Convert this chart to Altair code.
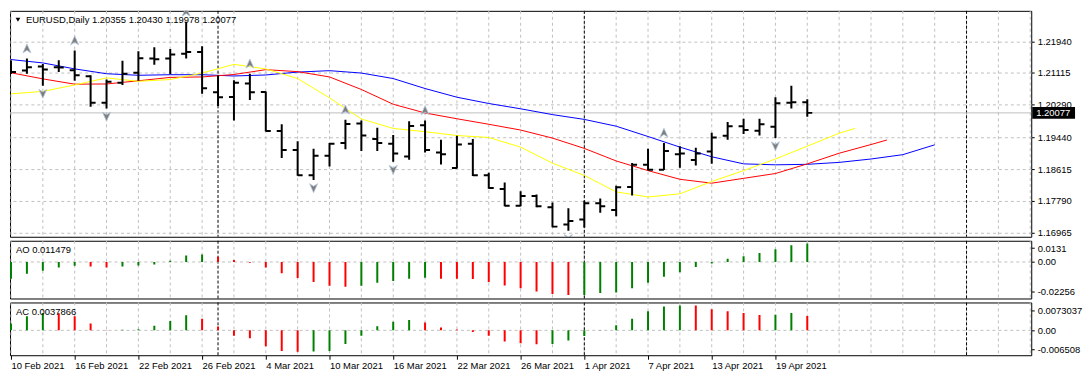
import altair as alt
import pandas as pd

# ---------------- data ----------------
dates = [
    "2021-02-10", "2021-02-11", "2021-02-12", "2021-02-15", "2021-02-16", "2021-02-17", "2021-02-18",
    "2021-02-19", "2021-02-22", "2021-02-23", "2021-02-24", "2021-02-25", "2021-02-26",
    "2021-03-01", "2021-03-02", "2021-03-03", "2021-03-04", "2021-03-05", "2021-03-08", "2021-03-09",
    "2021-03-10", "2021-03-11", "2021-03-12", "2021-03-15", "2021-03-16", "2021-03-17", "2021-03-18",
    "2021-03-19", "2021-03-22", "2021-03-23", "2021-03-24", "2021-03-25", "2021-03-26", "2021-03-29",
    "2021-03-30", "2021-03-31",
    "2021-04-01", "2021-04-02", "2021-04-05", "2021-04-06", "2021-04-07", "2021-04-08", "2021-04-09",
    "2021-04-12", "2021-04-13", "2021-04-14", "2021-04-15", "2021-04-16", "2021-04-19", "2021-04-20",
    "2021-04-21",
]
opens = [1.21262, 1.21179, 1.21280, 1.21262, 1.21187, 1.21029, 1.20341, 1.20861, 1.21119, 1.21488,
         1.21488, 1.21614, 1.21656, 1.20610, 1.20492, 1.20843, 1.20617, 1.19606, 1.19111, 1.18459,
         1.18961, 1.19297, 1.19799, 1.19397, 1.19272, 1.18946, 1.19756, 1.19046, 1.18644, 1.19272,
         1.18459, 1.18100, 1.17665, 1.17916, 1.17623, 1.17179, 1.17304, 1.17731, 1.17555, 1.18150,
         1.18727, 1.18602, 1.19003, 1.18853, 1.19071, 1.19480, 1.19731, 1.19613, 1.19714, 1.20341,
         1.20355]
highs = [1.21438, 1.21488, 1.21345, 1.21446, 1.21697, 1.21054, 1.20944, 1.21430, 1.21681, 1.21782,
         1.21739, 1.22442, 1.21807, 1.21054, 1.20928, 1.21094, 1.20635, 1.19781, 1.19337, 1.19146,
         1.19297, 1.19899, 1.19882, 1.19689, 1.19505, 1.19857, 1.19882, 1.19380, 1.19480, 1.19397,
         1.18519, 1.18268, 1.18042, 1.17957, 1.17748, 1.17598, 1.17791, 1.17849, 1.18183, 1.18777,
         1.19146, 1.19297, 1.19212, 1.19171, 1.19563, 1.19839, 1.19924, 1.19924, 1.20484, 1.20785,
         1.20430]
lows = [1.21087, 1.21094, 1.20785, 1.21137, 1.20911, 1.20233, 1.20191, 1.20803, 1.20911, 1.21330,
        1.21079, 1.21488, 1.20577, 1.20258, 1.19882, 1.20409, 1.19590, 1.18903, 1.18444, 1.18333,
        1.18685, 1.19129, 1.19086, 1.19086, 1.18810, 1.18860, 1.19046, 1.18735, 1.18630, 1.18434,
        1.18107, 1.17648, 1.17648, 1.17623, 1.17103, 1.17013, 1.17096, 1.17480, 1.17389, 1.17932,
        1.18584, 1.18590, 1.18652, 1.18710, 1.18752, 1.19380, 1.19530, 1.19488, 1.19422, 1.20191,
        1.19978]
closes = [1.21137, 1.21262, 1.21205, 1.21255, 1.21054, 1.20341, 1.20886, 1.21094, 1.21496, 1.21471,
          1.21596, 1.21656, 1.20718, 1.20484, 1.20861, 1.20610, 1.19606, 1.19111, 1.18459, 1.18961,
          1.19272, 1.19789, 1.19488, 1.19297, 1.19021, 1.19739, 1.19111, 1.19003, 1.19254, 1.18459,
          1.18125, 1.17665, 1.17916, 1.17648, 1.17121, 1.17264, 1.17731, 1.17648, 1.18142, 1.18727,
          1.18602, 1.19086, 1.19021, 1.19021, 1.19438, 1.19731, 1.19631, 1.19781, 1.20326, 1.20355,
          1.20077]

# Alligator lines (bar index, price), shifted into the future
jaw_idx = list(range(0, 59, 2))
jaw = [1.21463, 1.21375, 1.21220, 1.21094, 1.21054, 1.21069, 1.21069, 1.21036, 1.21062, 1.21137,
       1.21174, 1.21112, 1.20969, 1.20710, 1.20484, 1.20321, 1.20183, 1.20032, 1.19907, 1.19731,
       1.19463, 1.19187, 1.18936, 1.18752, 1.18727, 1.18740, 1.18790, 1.18878, 1.18991, 1.19247]
teeth_idx = list(range(0, 55, 2)) + [55]
teeth = [1.21119, 1.20961, 1.20823, 1.20828, 1.20911, 1.20999, 1.21011, 1.21074, 1.21200, 1.21149,
         1.21011, 1.20685, 1.20301, 1.20075, 1.19924, 1.19781, 1.19631, 1.19422, 1.19154, 1.18828,
         1.18577, 1.18351, 1.18250, 1.18376, 1.18501, 1.18752, 1.19028, 1.19254, 1.19372]
lips_idx = list(range(0, 53, 2)) + [53]
lips = [1.20572, 1.20635, 1.20803, 1.20986, 1.20898, 1.20944, 1.21112, 1.21338, 1.21220, 1.20969,
        1.20467, 1.19919, 1.19673, 1.19588, 1.19488, 1.19438, 1.19187, 1.18770, 1.18451, 1.18024,
        1.17891, 1.17974, 1.18293, 1.18577, 1.18878, 1.19212, 1.19548, 1.19673]

ao = [-0.01029, -0.00732, -0.00536, -0.00339, -0.00238, -0.00280, -0.00339, -0.00280, -0.00220, -0.00161,
      0.00077, 0.00399, 0.00458, 0.00315, 0.00119, -0.00042, -0.00339, -0.00696, -0.00994, -0.01232,
      -0.01470, -0.01529, -0.01470, -0.01291, -0.01172, -0.01029, -0.00970, -0.01033, -0.01040, -0.01050,
      -0.01232, -0.01446, -0.01624, -0.01827, -0.01981, -0.02041, -0.02035, -0.01922, -0.01886, -0.01624,
      -0.01291, -0.00910, -0.00637, -0.00315, -0.00101, 0.00196, 0.00357, 0.00553, 0.00791, 0.01029,
      0.011479]
ac = [0.00181, 0.00371, 0.00453, 0.00446, 0.00371, 0.00181, 0.00012, 0.00017, 0.00032, 0.00124,
      0.00248, 0.00396, 0.00304, 0.00099, -0.00141, -0.00205, -0.00413, -0.00537, -0.00562, -0.00552,
      -0.00537, -0.00354, -0.00141, 0.00106, 0.00223, 0.00272, 0.00205, 0.00074, 0.00025, -0.00042,
      -0.00141, -0.00290, -0.00339, -0.00364, -0.00359, -0.00265, -0.00149, 0.00007, 0.00131, 0.00304,
      0.00502, 0.00626, 0.00651, 0.00648, 0.00552, 0.00502, 0.00453, 0.00403, 0.00406, 0.00453,
      0.0037866]

fractal_up = [1, 4, 11, 15, 21, 26, 41]
fractal_down = [2, 6, 19, 24, 35, 48]

price_ticks = [1.21940, 1.21115, 1.20290, 1.19440, 1.18615, 1.17790, 1.16965]
ao_range = [-0.02256, 0.0131]
ac_range = [-0.006508, 0.0073037]
separators = [13, 36, 60]
label_idx = list(range(0, 49, 4))
symbol = "EURUSD,Daily"

# ---------------- layout / style ----------------
W = 1026
PX_PER_BAR = 16
H_MAIN, H_AO, H_AC = 227, 58, 53
X_DOMAIN = [-1 / PX_PER_BAR, -1 / PX_PER_BAR + W / PX_PER_BAR]
Y_MAIN = [1.16857, 1.22729]
FONT = "Liberation Sans"
FS = 9.5
GRID = "#C0C0C0"
UP_ARROW = "M0,-1 L0.85,0.9 L0,0.35 L-0.85,0.9 Z"
DOWN_ARROW = "M0,1 L0.85,-0.9 L0,-0.35 L-0.85,-0.9 Z"

n = len(dates)
idx = list(range(n))
dts = pd.to_datetime(dates)
day_labels = [f"{t.day} {t.strftime('%b %Y')}" for t in dts]

bars = pd.DataFrame({"i": idx, "open": opens, "high": highs, "low": lows, "close": closes})


def direction(vals):
    return ["up"] + ["up" if vals[k] > vals[k - 1] else "down" for k in range(1, len(vals))]


osc = pd.DataFrame({"i": idx, "ao": ao, "ac": ac, "ao_dir": direction(ao), "ac_dir": direction(ac)})

xs = alt.Scale(domain=X_DOMAIN, nice=False, zero=False)
X = alt.X("i:Q", scale=xs, axis=None)

main_axis = alt.Axis(orient="right", values=price_ticks, format=".5f", grid=True, gridColor=GRID,
                     gridDash=[3, 3], domain=False, tickColor="black", tickSize=3, labelPadding=3,
                     labelFontSize=FS, labelColor="black", labelFont=FONT, title=None)
main_scale = alt.Scale(domain=Y_MAIN, nice=False, zero=False)


def YM(field):
    return alt.Y(f"{field}:Q", scale=main_scale, axis=main_axis)


vgrid_df = pd.DataFrame({"i": list(range(0, 65, 2))})
sep_df = pd.DataFrame({"i": separators})


def vgrid():
    return alt.Chart(vgrid_df).mark_rule(color=GRID, strokeDash=[3, 3], strokeWidth=1).encode(x=X)


def seps():
    return alt.Chart(sep_df).mark_rule(color="black", strokeDash=[3, 2], strokeWidth=1).encode(x=X)


# ---------------- main price panel ----------------
last_df = pd.DataFrame({"v": [closes[-1]]})
lp_line = alt.Chart(last_df).mark_rule(color=GRID, strokeWidth=1).encode(y=YM("v"))


def mline(ix, vals, color):
    return alt.Chart(pd.DataFrame({"i": ix, "v": vals})).mark_line(
        color=color, strokeWidth=1, clip=True).encode(x=X, y=YM("v"))


jaw_l = mline(jaw_idx, jaw, "#0000FF")
teeth_l = mline(teeth_idx, teeth, "#FF0000")
lips_l = mline(lips_idx, lips, "#FFFF00")

hl = alt.Chart(bars).mark_rule(color="black", strokeWidth=2, clip=True).encode(
    x=X, y=YM("low"), y2="high:Q")
op = alt.Chart(bars).mark_tick(orient="horizontal", size=5, thickness=2, color="black",
                               opacity=1, xOffset=-2.5, clip=True).encode(x=X, y=YM("open"))
cl = alt.Chart(bars).mark_tick(orient="horizontal", size=5, thickness=2, color="black",
                               opacity=1, xOffset=2.5, clip=True).encode(x=X, y=YM("close"))

fu_df = pd.DataFrame({"i": fractal_up, "v": [highs[k] for k in fractal_up]})
fd_df = pd.DataFrame({"i": fractal_down, "v": [lows[k] for k in fractal_down]})
fu = alt.Chart(fu_df).mark_point(shape=UP_ARROW, size=90, filled=True, fill="#7d7d7d",
                                 stroke="#b4c6da", strokeWidth=0.8, opacity=1, yOffset=-10,
                                 clip=True).encode(x=X, y=YM("v"))
fd = alt.Chart(fd_df).mark_point(shape=DOWN_ARROW, size=90, filled=True, fill="#7d7d7d",
                                 stroke="#b4c6da", strokeWidth=0.8, opacity=1, yOffset=8,
                                 clip=True).encode(x=X, y=YM("v"))

lp_box = alt.Chart(last_df).mark_rule(color="black", strokeWidth=12, strokeCap="butt").encode(
    x=alt.value(W + 1), x2=alt.value(W + 44), y=YM("v"))
lp_text = alt.Chart(last_df).mark_text(color="white", align="left", baseline="middle",
                                       fontSize=FS, font=FONT).encode(
    x=alt.value(W + 5), y=YM("v"), text=alt.Text("v:Q", format=".5f"))

header = f"{symbol}  {opens[-1]:.5f} {highs[-1]:.5f} {lows[-1]:.5f} {closes[-1]:.5f}"
hdr = alt.Chart(pd.DataFrame({"t": [header]})).mark_text(
    align="left", baseline="middle", fontSize=FS, font=FONT, color="black").encode(
    x=alt.value(16), y=alt.value(9), text="t:N")
hdr_tri = alt.Chart(pd.DataFrame({"t": ["x"]})).mark_point(
    shape="triangle-down", size=22, filled=True, color="black", opacity=1).encode(
    x=alt.value(8), y=alt.value(9))

main = alt.layer(vgrid(), seps(), lp_line, jaw_l, teeth_l, lips_l, hl, op, cl, fu, fd,
                 lp_box, lp_text, hdr_tri, hdr).properties(width=W, height=H_MAIN)


# ---------------- oscillator panels ----------------
def osc_panel(field, dir_field, rng, height, label_fmt, title_text, x_enc, label_inset):
    k = (rng[1] - rng[0]) / height
    top_pos = rng[1] - label_inset[0] * k
    bot_pos = rng[0] + label_inset[1] * k
    lbl_top = label_fmt[0]
    lbl_bot = label_fmt[1]
    axis = alt.Axis(orient="right", values=[top_pos, 0, bot_pos],
                    labelExpr=f"datum.value > 0 ? '{lbl_top}' : (datum.value < 0 ? '{lbl_bot}' : '0.00')",
                    grid=False, domain=False, tickColor="black", tickSize=3, labelPadding=3,
                    labelFontSize=FS, labelColor="black", labelFont=FONT, title=None)
    sc = alt.Scale(domain=rng, nice=False, zero=False)
    y = alt.Y(f"{field}:Q", scale=sc, axis=axis)
    zero = alt.Chart(pd.DataFrame({"z": [0.0]})).mark_rule(
        color=GRID, strokeDash=[3, 3], strokeWidth=1).encode(
        y=alt.Y("z:Q", scale=sc, axis=axis))
    g = alt.Chart(vgrid_df).mark_rule(color=GRID, strokeDash=[3, 3], strokeWidth=1).encode(x=x_enc)
    s = alt.Chart(sep_df).mark_rule(color="black", strokeDash=[3, 2], strokeWidth=1).encode(x=x_enc)
    hist = alt.Chart(osc).mark_rule(strokeWidth=2, clip=True).encode(
        x=x_enc, y=y, y2=alt.datum(0),
        color=alt.Color(f"{dir_field}:N", scale=alt.Scale(domain=["up", "down"],
                                                            range=["#008000", "#FF0000"]),
                        legend=None))
    ttl = alt.Chart(pd.DataFrame({"t": [title_text]})).mark_text(
        align="left", baseline="middle", fontSize=FS, font=FONT, color="black").encode(
        x=alt.value(6), y=alt.value(9.5), text="t:N")
    return alt.layer(g, s, zero, hist, ttl).properties(width=W, height=height)


ao_panel = osc_panel("ao", "ao_dir", ao_range, H_AO, ["0.0131", "-0.02256"],
                     f"AO {ao[-1]:.6f}", X, (7.3, 6.7))

label_array = "[" + ",".join(f"'{s}'" for s in day_labels) + "]"
X_AC = alt.X("i:Q", scale=xs,
             axis=alt.Axis(values=label_idx, labelExpr=f"{label_array}[datum.value]",
                           labelAlign="left", labelBaseline="top", labelPadding=1, tickSize=4,
                           tickColor="black", domain=False, grid=False, labelFlush=False,
                           labelOverlap=False, labelFontSize=FS, labelColor="black",
                           labelFont=FONT, title=None))
ac_panel = osc_panel("ac", "ac_dir", ac_range, H_AC, ["0.0073037", "-0.006508"],
                     f"AC {ac[-1]:.7f}", X_AC, (7.7, 6.0))

chart = alt.vconcat(main, ao_panel, ac_panel, spacing=2).properties(
    padding={"left": 1, "top": 1, "right": 0, "bottom": 0}, background="white"
).configure_view(stroke="black", strokeWidth=1)

chart.save("out.html", embed_options={"renderer": "svg", "actions": False})
